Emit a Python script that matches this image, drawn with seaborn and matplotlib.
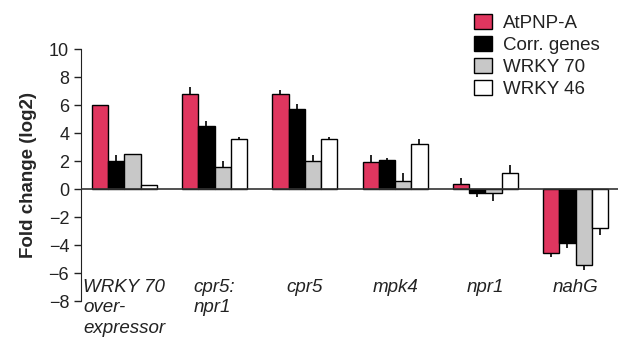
import pandas as pd
import matplotlib
matplotlib.use('Agg')
import matplotlib.pyplot as plt
import seaborn as sns
import numpy as np

lines = ['WRKY 70\nover-\nexpressor', 'cpr5:\nnpr1', 'cpr5', 'mpk4', 'npr1', 'nahG']
series = ['AtPNP-A', 'Corr. genes', 'WRKY 70', 'WRKY 46']

atpnp = [6.0, 6.8, 6.8, 1.95, 0.35, -4.55]
corr = [2.0, 4.5, 5.7, 2.05, -0.25, -3.85]
wrky70 = [2.5, 1.6, 2.0, 0.55, -0.25, -5.45]
wrky46 = [0.3, 3.6, 3.6, 3.2, 1.15, -2.8]

atpnp_err = [0.0, 0.5, 0.3, 0.45, 0.45, 0.33]
corr_err = [0.4, 0.35, 0.4, 0.15, 0.3, 0.36]
wrky70_err = [0.0, 0.4, 0.4, 0.6, 0.6, 0.3]
wrky46_err = [0.0, 0.15, 0.1, 0.4, 0.6, 0.48]

colors = ['#E0365F', '#000000', '#C8C8C8', '#FFFFFF']

df = pd.DataFrame({
    'line': lines * 4,
    'series': np.repeat(series, len(lines)),
    'value': atpnp + corr + wrky70 + wrky46,
})
errs = [atpnp_err, corr_err, wrky70_err, wrky46_err]

sns.set_style('ticks')
plt.rcParams['font.family'] = ['Liberation Sans', 'DejaVu Sans']

fig = plt.figure(figsize=(6.19, 3.45), dpi=100)
ax = fig.add_axes([81 / 619, 44 / 345, 537 / 619, 252 / 345])

sns.barplot(data=df, x='line', y='value', hue='series', palette=colors,
            width=0.72, gap=0, errorbar=None, edgecolor='black', linewidth=1,
            saturation=1, ax=ax)

# one-sided error bars, away from zero
for cont, err in zip(ax.containers, errs):
    for bar, e in zip(cont, err):
        if e == 0:
            continue
        xc = bar.get_x() + bar.get_width() / 2
        top = bar.get_y() + bar.get_height()
        if top > 0:
            ax.vlines(xc, top, top + e, color='black', lw=1.2, zorder=1)
        else:
            ax.vlines(xc, top, top - e, color='black', lw=1.2, zorder=1)

ax.axhline(0, color='#333333', lw=1.2, zorder=3)
ax.set_xlim(-0.48, 5.47)
ax.set_ylim(-8, 10)
ax.set_yticks(range(-8, 11, 2))
ax.tick_params(axis='y', labelsize=13, length=5, width=1, direction='out', colors='#222222')
ax.set_xticks([])
ax.set_xlabel('')
ax.set_ylabel('Fold change (log2)', fontsize=13.5, fontweight='bold', labelpad=8)
for s in ['top', 'right', 'bottom']:
    ax.spines[s].set_visible(False)
ax.spines['left'].set_color('#222222')

for i, name in enumerate(lines):
    ax.text(i, -6.4, name, ha='center', va='top', multialignment='left',
            fontsize=13.5, style='italic', color='#222222', linespacing=1.3)

ax.legend(loc='upper left', bbox_to_anchor=(474 / 619, 1 - 14 / 345),
          bbox_transform=fig.transFigure, frameon=False, fontsize=13.5,
          handlelength=0.95, handleheight=0.85, handletextpad=0.6,
          labelspacing=0.22, borderpad=0, borderaxespad=0, labelcolor='#222222')

fig.savefig('out.png', dpi=100)
